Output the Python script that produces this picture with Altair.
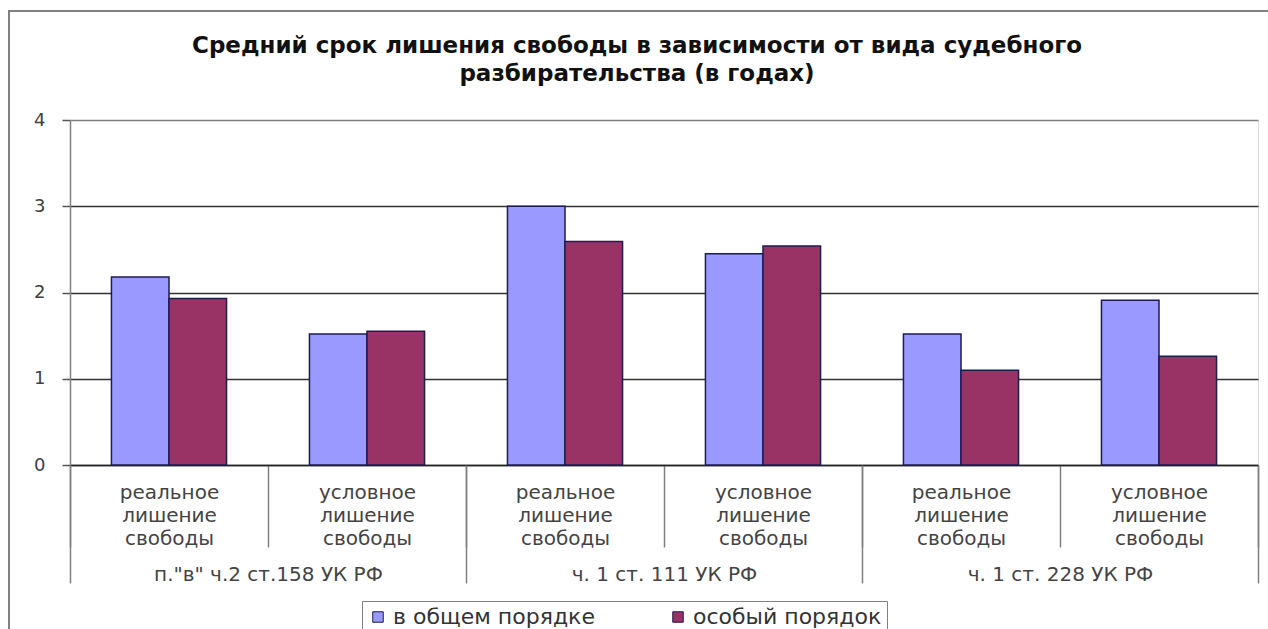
import altair as alt
import pandas as pd

# Chart data: average term of imprisonment (years) by type of court procedure
groups = ['п."в" ч.2 ст.158 УК РФ', "ч. 1 ст. 111 УК РФ", "ч. 1 ст. 228 УК РФ"]
kinds = ["реальное лишение свободы", "условное лишение свободы"]
series = ["в общем порядке", "особый порядок"]
general_order = [2.18, 1.52, 3.00, 2.45, 1.52, 1.91]
special_order = [1.93, 1.55, 2.59, 2.54, 1.10, 1.26]
y_ticks = [0, 1, 2, 3, 4]
colors = ["#9999FF", "#993366"]

title_lines = [
    "Средний срок лишения свободы в зависимости от вида судебного",
    "разбирательства (в годах)",
]

FONT = "DejaVu Sans"

cats = [f"{g}|{k}" for g in groups for k in kinds]
rows = []
for i, cat in enumerate(cats):
    rows.append({"cat": cat, "series": series[0], "value": general_order[i]})
    rows.append({"cat": cat, "series": series[1], "value": special_order[i]})
bars_df = pd.DataFrame(rows)
groups_df = pd.DataFrame({"group": groups})

W, H = 1188, 345

bars = (
    alt.Chart(bars_df)
    .mark_bar(stroke="#1c1c50", strokeWidth=1.5)
    .encode(
        x=alt.X(
            "cat:N",
            sort=cats,
            scale=alt.Scale(paddingInner=0, paddingOuter=0),
            axis=alt.Axis(
                title=None,
                labelExpr="datum.value ? split(split(datum.value, '|')[1], ' ') : ''",
                labelAngle=0,
                labelFont=FONT,
                labelFontSize=20,
                labelColor="#444444",
                labelLineHeight=23,
                labelBaseline="top",
                labelPadding=-65,
                labelOverlap=False,
                labelLimit=0,
                tickBand="extent",
                tickSize=82,
                tickColor="#808080",
                tickWidth=1.5,
                domainColor="#222222",
                domainWidth=1.5,
            ),
        ),
        xOffset=alt.XOffset(
            "series:N",
            sort=series,
            scale=alt.Scale(paddingInner=0, paddingOuter=0.72),
        ),
        y=alt.Y(
            "value:Q",
            scale=alt.Scale(domain=[0, 4], nice=False),
            axis=alt.Axis(
                title=None,
                values=y_ticks,
                labelFont=FONT,
                labelFontSize=18,
                labelColor="#404040",
                labelPadding=17,
                tickSize=8,
                tickColor="#555555",
                tickWidth=1.5,
                domainColor="#808080",
                domainWidth=1.5,
                gridColor={"condition": {"test": "datum.value === 4", "value": "#808080"}, "value": "#333333"},
                gridWidth=1.5,
            ),
        ),
        color=alt.Color(
            "series:N",
            sort=series,
            scale=alt.Scale(domain=series, range=colors),
            legend=alt.Legend(
                title=None,
                orient="none",
                legendX=292,
                legendY=481,
                direction="horizontal",
                symbolType="square",
                symbolSize=110,
                symbolStrokeWidth=1,
                labelFont=FONT,
                labelFontSize=22,
                labelColor="#333333",
                labelOffset=4,
                labelLimit=0,
                columnPadding=72,
                strokeColor="#808080",
                fillColor="white",
                padding=5,
            ),
        ),
    )
)

# Invisible layer carrying the outer category axis (criminal code articles)
group_axis = (
    alt.Chart(groups_df)
    .mark_point(opacity=0)
    .encode(
        x=alt.X(
            "group:N",
            sort=groups,
            scale=alt.Scale(paddingInner=0, paddingOuter=0),
            axis=alt.Axis(
                orient="bottom",
                title=None,
                labelAngle=0,
                labelFont=FONT,
                labelFontSize=20,
                labelColor="#444444",
                labelBaseline="top",
                labelPadding=-19,
                labelLimit=0,
                tickBand="extent",
                tickSize=118,
                tickColor="#808080",
                tickWidth=1.5,
                domain=False,
            ),
        )
    )
)

# Outer chart frame
frame = (
    alt.Chart(alt.Data(values=[{"k": 0}]))
    .mark_rect(filled=False, stroke="#808080", strokeWidth=2)
    .encode(x=alt.value(-61), x2=alt.value(1205), y=alt.value(-109), y2=alt.value(520))
)

chart = (
    alt.layer(frame, bars, group_axis)
    .resolve_scale(x="independent")
    .properties(
        width=W,
        height=H,
        title=alt.TitleParams(
            text=title_lines,
            font=FONT,
            fontSize=23,
            fontWeight="bold",
            color="#111111",
            lineHeight=28,
            anchor="middle",
            frame="group",
            dx=-27,
            offset=-76,
        ),
        autosize=alt.AutoSizeParams(type="none"),
        padding={"left": 70, "top": 120, "right": 10, "bottom": 164},
    )
    .configure_view(stroke="#808080", strokeWidth=1.5, fill="#C0C0C0")
    .configure(background="white")
)

chart.save("out.html", embed_options={"renderer": "svg", "actions": False})
